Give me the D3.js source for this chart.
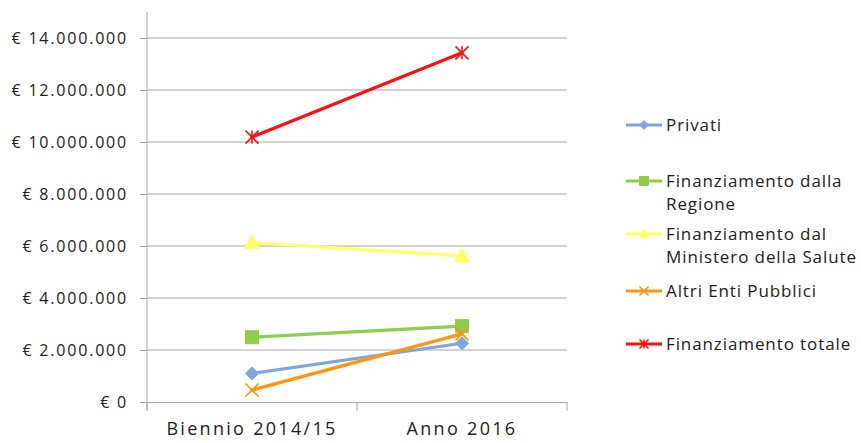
<!DOCTYPE html>
<html>
<head>
<meta charset="utf-8">
<script src="https://cdn.jsdelivr.net/npm/d3@7"></script>
<style>
  body { margin: 0; background: #fff; }
  text { font-family: "Open Sans", sans-serif; fill: #222; }
</style>
</head>
<body>
<div id="viz"></div>
<script>
const width = 861;
const height = 443;

// data
const categories = ['Biennio 2014/15', 'Anno 2016'];
const privati = [1100000, 2260000];
const regione = [2490000, 2920000];
const ministero = [6130000, 5620000];
const altriEnti = [460000, 2620000];
const totale = [10190000, 13430000];
const yTicks = [0, 2000000, 4000000, 6000000, 8000000, 10000000, 12000000, 14000000];

const series = [
  { name: ['Privati'], values: privati, color: '#7fa6dc', marker: 'diamond', ly: 125 },
  { name: ['Finanziamento dalla', 'Regione'], values: regione, color: '#8fce4a', marker: 'square', ly: 181 },
  { name: ['Finanziamento dal', 'Ministero della Salute'], values: ministero, color: '#ffff66', marker: 'triangle', ly: 234 },
  { name: ['Altri Enti Pubblici'], values: altriEnti, color: '#ff9410', marker: 'x', ly: 291 },
  { name: ['Finanziamento totale'], values: totale, color: '#ff1010', marker: 'star', ly: 344 },
];

const plot = { left: 147, right: 567, top: 12, bottom: 402 };

const x = d3.scaleBand()
  .domain(categories)
  .range([plot.left, plot.right]);

const y = d3.scaleLinear()
  .domain([0, 15000000])
  .range([plot.bottom, plot.top]);

const fmt = v => '€ ' + d3.format(',')(v).replace(/,/g, '.');

const svg = d3.select('#viz').append('svg')
  .attr('width', width)
  .attr('height', height);

// gridlines
svg.append('g')
  .selectAll('line')
  .data(yTicks.slice(1))
  .enter()
  .append('line')
  .attr('x1', plot.left).attr('x2', plot.right)
  .attr('y1', d => y(d)).attr('y2', d => y(d))
  .attr('stroke', '#a6a6a6')
  .attr('stroke-width', 1);

// y axis
const yAxis = svg.append('g')
  .attr('transform', `translate(${plot.left},0)`)
  .call(d3.axisLeft(y).tickValues(yTicks).tickFormat(fmt).tickSize(7).tickPadding(12));
yAxis.select('.domain').attr('stroke', '#a6a6a6').attr('d', `M0,${plot.top}V${plot.bottom + 8}`);
yAxis.selectAll('.tick line').attr('stroke', '#a6a6a6');
yAxis.selectAll('text')
  .style('font-size', '16px')
  .style('letter-spacing', '1.8px')
  .attr('fill', '#222');

// x axis
const xAxis = svg.append('g')
  .attr('transform', `translate(0,${plot.bottom})`)
  .call(d3.axisBottom(x).tickSize(0).tickPadding(20));
xAxis.select('.domain').attr('stroke', '#a6a6a6');
xAxis.selectAll('text')
  .style('font-size', '18px')
  .style('letter-spacing', '2.3px')
  .attr('fill', '#222');
xAxis.append('g')
  .selectAll('line')
  .data([plot.left, (plot.left + plot.right) / 2, plot.right])
  .enter()
  .append('line')
  .attr('x1', d => d).attr('x2', d => d)
  .attr('y1', 0).attr('y2', 9)
  .attr('stroke', '#a6a6a6');

function markerPath(type, s) {
  const h = s / 2;
  switch (type) {
    case 'diamond': return `M0,${-h}L${h},0L0,${h}L${-h},0Z`;
    case 'square': return `M${-h},${-h}H${h}V${h}H${-h}Z`;
    case 'triangle': return `M0,${-h}L${h},${h * 0.8}L${-h},${h * 0.8}Z`;
    case 'x': return `M${-h},${-h}L${h},${h}M${h},${-h}L${-h},${h}`;
    case 'star': return `M${-h},${-h}L${h},${h}M${h},${-h}L${-h},${h}M0,${-h}V${h}`;
  }
}

function drawMarker(g, type, color, s) {
  const stroked = type === 'x' || type === 'star';
  g.append('path')
    .attr('d', markerPath(type, s))
    .attr('fill', stroked ? 'none' : color)
    .attr('stroke', color)
    .attr('stroke-width', stroked ? 1.6 : 1);
}

const cx = d => x(d) + x.bandwidth() / 2;

const line = d3.line()
  .x((d, i) => cx(categories[i]))
  .y(d => y(d));

series.forEach(s => {
  svg.append('path')
    .attr('d', line(s.values))
    .attr('fill', 'none')
    .attr('stroke', s.color)
    .attr('stroke-width', 3.2)
    .attr('stroke-linecap', 'round');
  s.values.forEach((v, i) => {
    const g = svg.append('g').attr('transform', `translate(${cx(categories[i])},${y(v)})`);
    drawMarker(g, s.marker, s.color, s.marker === 'triangle' ? 15 : 13);
  });
});

// legend
const legend = svg.append('g');
series.forEach(s => {
  const g = legend.append('g').attr('transform', `translate(0,${s.ly})`);
  g.append('line')
    .attr('x1', 626).attr('x2', 662)
    .attr('stroke', s.color).attr('stroke-width', 3);
  const m = g.append('g').attr('transform', 'translate(644,0)');
  drawMarker(m, s.marker, s.color, 9);
  s.name.forEach((t, i) => {
    g.append('text')
      .attr('x', 666)
      .attr('y', i * 23)
      .attr('dy', '0.35em')
      .style('font-size', '17px')
      .style('letter-spacing', '0.9px')
      .text(t);
  });
});
</script>
</body>
</html>
